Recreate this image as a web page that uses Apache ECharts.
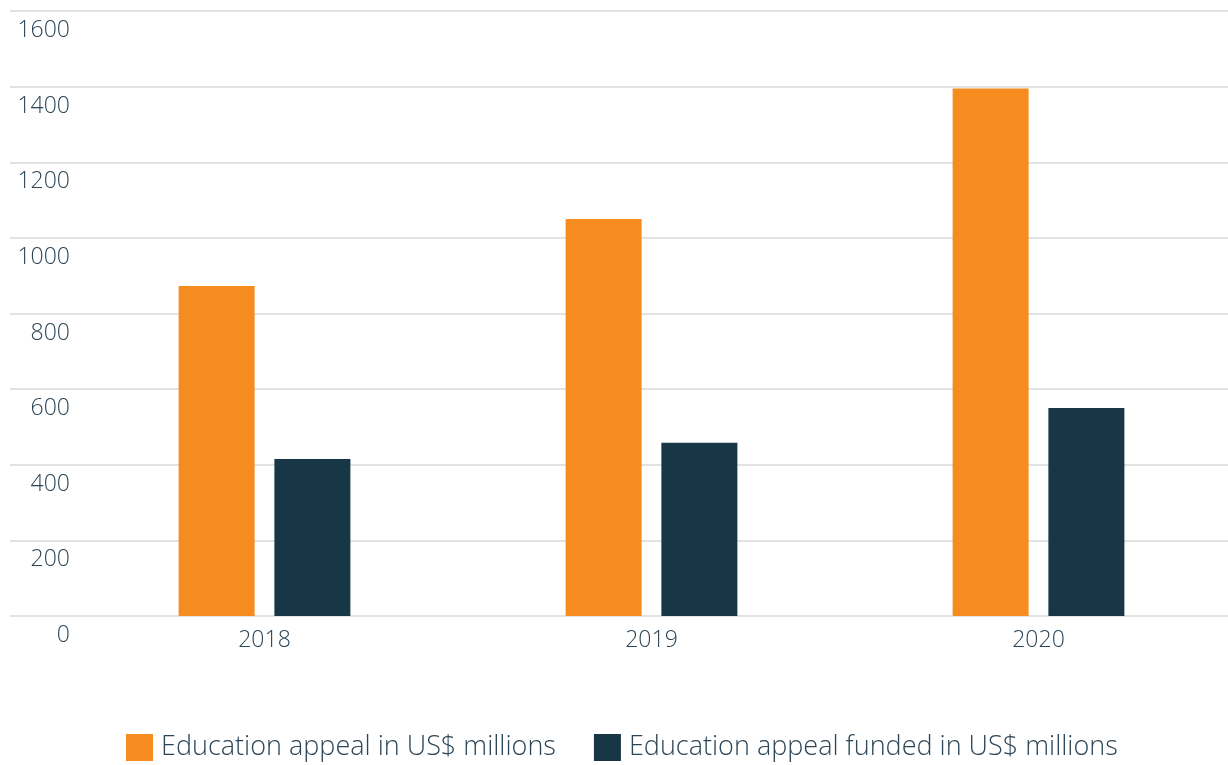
<!DOCTYPE html>
<html>
<head>
<meta charset="utf-8">
<script src="https://cdn.jsdelivr.net/npm/echarts@6/dist/echarts.min.js"></script>
<style>
  html, body { margin: 0; padding: 0; background: #fff; overflow: hidden; }
  #chart { width: 1236px; height: 765px; }
</style>
</head>
<body>
<div id="chart"></div>
<script>
// chart values
var years = ["2018", "2019", "2020"];
var appeal = [873, 1050, 1395];
var funded = [415, 458, 550];
var yTicks = { min: 0, max: 1600, step: 200 };

var textColor = "#2c4657";
var fontFam = "'Open Sans', Lato, sans-serif";

var chart = echarts.init(document.getElementById("chart"));

var option = {
  animation: false,
  textStyle: { fontFamily: fontFam },
  grid: [
    // background grid: gridlines + y labels across the visible width
    { left: 10, right: 8, top: 11, bottom: 149 },
    // bar grid
    { left: 71, right: 4, top: 11, bottom: 149 }
  ],
  legend: {
    top: 734,
    left: 126,
    padding: 0,
    itemWidth: 27,
    itemHeight: 27,
    itemGap: 38,
    icon: "rect",
    textStyle: { color: textColor, fontSize: 27, fontWeight: 300, fontFamily: fontFam, padding: [0, 0, 0, 3] }
  },
  xAxis: [
    {
      gridIndex: 0,
      type: "category",
      data: years,
      show: false
    },
    {
      gridIndex: 1,
      type: "category",
      data: years,
      axisLine: { show: false },
      axisTick: { show: false },
      axisLabel: { color: textColor, fontSize: 23, fontWeight: 300, margin: 13 }
    }
  ],
  yAxis: [
    {
      gridIndex: 0,
      type: "value",
      min: yTicks.min,
      max: yTicks.max,
      interval: yTicks.step,
      axisLine: { show: false },
      axisTick: { show: false },
      splitLine: { lineStyle: { color: "#d9d9d9", width: 1.5 } },
      axisLabel: {
        inside: true,
        align: "right",
        margin: 60,
        verticalAlign: "top",
        padding: [8, 0, 0, 0],
        color: textColor,
        fontSize: 23,
        fontWeight: 300,
        formatter: function (v) { return String(v); }
      }
    },
    {
      gridIndex: 1,
      type: "value",
      min: yTicks.min,
      max: yTicks.max,
      interval: yTicks.step,
      show: false,
      splitLine: { show: false }
    }
  ],
  series: [
    {
      name: "Education appeal in US$ millions",
      type: "bar",
      xAxisIndex: 1,
      yAxisIndex: 1,
      data: appeal,
      barWidth: 76,
      barGap: "26%",
      itemStyle: { color: "#f68b1f" }
    },
    {
      name: "Education appeal funded in US$ millions",
      type: "bar",
      xAxisIndex: 1,
      yAxisIndex: 1,
      data: funded,
      barWidth: 76,
      itemStyle: { color: "#173646" }
    }
  ]
};

chart.setOption(option);
</script>
</body>
</html>
